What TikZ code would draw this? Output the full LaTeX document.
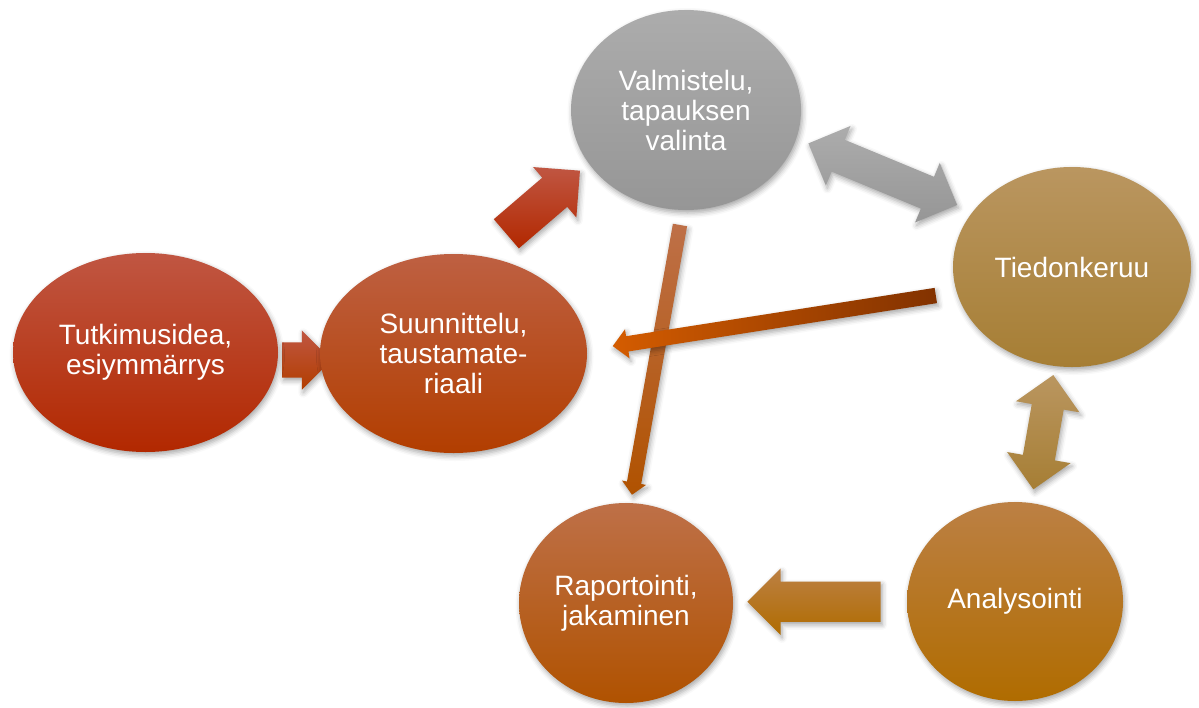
\documentclass[tikz,border=0pt]{standalone}
\usepackage{fontspec}
\setmainfont{Liberation Sans}
\usetikzlibrary{shapes.geometric,shapes.arrows,shadows.blur}
\definecolor{It}{RGB}{192,86,66}
\definecolor{Ib}{RGB}{178,40,0}
\definecolor{St}{RGB}{190,96,66}
\definecolor{Sb}{RGB}{178,62,0}
\definecolor{Vt}{RGB}{172,172,172}
\definecolor{Vb}{RGB}{150,150,150}
\definecolor{Tt}{RGB}{186,150,96}
\definecolor{Tb}{RGB}{166,126,52}
\definecolor{At}{RGB}{188,128,68}
\definecolor{Ab}{RGB}{176,108,0}
\definecolor{Rt}{RGB}{190,112,72}
\definecolor{Rb}{RGB}{176,82,0}
\definecolor{darkrust}{RGB}{130,50,0}
\definecolor{brightrust}{RGB}{212,92,0}
\newcommand{\stage}[6]{\node[stage, minimum width=#4, minimum height=#5, top color=#6t, bottom color=#6b] (#1) at #2 {#3};}
\tikzset{
  soft/.style={blur shadow={shadow xshift=1.5pt, shadow yshift=-3pt, shadow blur radius=5pt, shadow opacity=35}},
  stage/.style={ellipse, inner sep=0pt, outer sep=0pt, soft, align=center, text=white, font=\fontsize{28}{30}\selectfont},
  pil/.style={single arrow, anchor=tail, inner xsep=0pt, inner ysep=#1, outer sep=0pt, soft, single arrow tip angle=90},
  tvepil/.style={double arrow, inner xsep=0pt, inner ysep=#1, outer sep=0pt, soft, double arrow tip angle=90}
}
\begin{document}
\begin{tikzpicture}[x=1pt, y=-1pt]
\useasboundingbox (0,0) rectangle (1199,707);
% arrows first, the ellipses hide the tips
\node[pil=17.5pt, minimum height=49.5pt, single arrow head extend=12pt, top color=It, bottom color=Sb] (ab) at (282,360) {};
\node[pil=19pt, minimum height=97pt, single arrow head extend=14pt, rotate=40.6, top color=It, bottom color=Ib] (bc) at (506.3,233.8) {};
\node[tvepil=17pt, minimum height=161pt, double arrow head extend=15pt, rotate=-22.5, top color=Vt, bottom color=Vb] (cd) at (882.8,174.2) {};
\node[pil=7pt, minimum height=274pt, single arrow head extend=5pt, rotate=-100.1, top color=Rt, bottom color=Rb] (cf) at (680,225) {};
\node[pil=7.5pt, minimum height=327pt, single arrow head extend=7pt, rotate=-171.1, left color=brightrust, right color=darkrust] (db) at (935.8,295.5) {};
\node[tvepil=16pt, minimum height=116pt, double arrow head extend=16pt, rotate=80.1, top color=Tt, bottom color=Tb] (de) at (1043.3,432.2) {};
\node[pil=20pt, minimum height=133.4pt, single arrow head extend=13pt, rotate=180, top color=At, bottom color=Ab] (ef) at (880.7,601.7) {};
% the six stages
\stage{idea}{(145.5,352.5)}{Tutkimusidea,\\esiymmärrys}{265pt}{199pt}{I}
\stage{plan}{(453.5,353.5)}{Suunnittelu,\\taustamate-\\riaali}{267pt}{199pt}{S}
\stage{prep}{(686,110)}{Valmistelu,\\tapauksen\\valinta}{230pt}{200pt}{V}
\stage{collect}{(1072,267)}{Tiedonkeruu}{238pt}{200pt}{T}
\stage{analyse}{(1015,601.5)}{Analysointi}{216pt}{199pt}{A}
\stage{report}{(626,603)}{Raportointi,\\jakaminen}{214pt}{200pt}{R}
\end{tikzpicture}
\end{document}
